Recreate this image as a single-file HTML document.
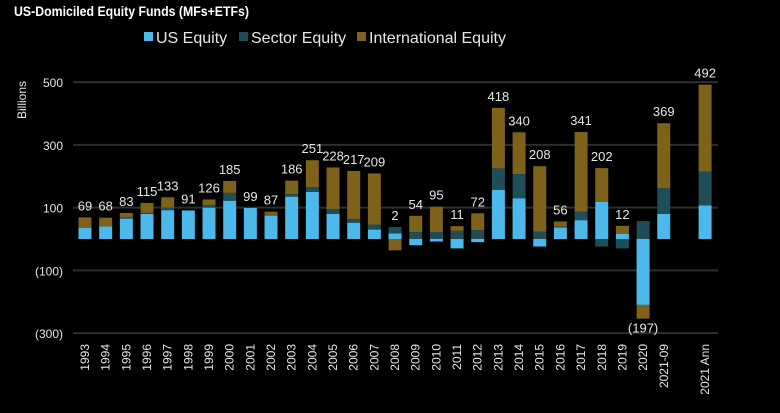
<!DOCTYPE html>
<html><head><meta charset="utf-8"><style>
html,body{margin:0;padding:0;background:#000;}
svg{display:block;font-family:"Liberation Sans",Arial,sans-serif;}
</style></head><body>
<svg id="chart" width="780" height="413" viewBox="0 0 780 413">
<text x="14" y="16" fill="#ffffff" font-size="14" font-weight="bold" textLength="235" lengthAdjust="spacingAndGlyphs">US-Domiciled Equity Funds (MFs+ETFs)</text>
<g>
<rect x="144" y="32" width="9" height="9" fill="#4db8ea"/>
<text x="156" y="43" fill="#e6e6e6" font-size="16">US Equity</text>
<rect x="239" y="32" width="9" height="9" fill="#1f4e5a"/>
<text x="251" y="43" fill="#e6e6e6" font-size="16">Sector Equity</text>
<rect x="357" y="32" width="9" height="9" fill="#7f6219"/>
<text x="369" y="43" fill="#e6e6e6" font-size="16">International Equity</text>
</g>
<text transform="translate(26,100) rotate(-90)" fill="#e6e6e6" font-size="12" text-anchor="middle">Billions</text>
<g id="grid"></g><g id="bars"></g><g id="labels"></g>
</svg>
<script>
const categories=["1993","1994","1995","1996","1997","1998","1999","2000","2001","2002","2003","2004","2005","2006","2007","2008","2009","2010","2011","2012","2013","2014","2015","2016","2017","2018","2019","2020","2021-09","2021 Ann"];
const slots=[0,1,2,3,4,5,6,7,8,9,10,11,12,13,14,15,16,17,18,19,20,21,22,23,24,25,26,27,28,30];
const usEquity=[35,40,65,80,92,91,100,122,99,75,135,150,80,52,30,18,-20,-8,-30,-10,157,130,-24,37,60,118,16,-210,80,107];
const sectorEquity=[0,0,3,3,8,0,8,25,0,2,8,15,15,12,16,20,22,22,26,28,68,77,24,3,27,-24,-30,57,82,108];
const intlEquity=[34,28,15,32,33,0,18,38,0,10,43,86,133,153,163,-36,52,81,15,54,193,133,208,16,254,108,26,-44,207,277];
const totals=["69","68","83","115","133","91","126","185","99","87","186","251","228","217","209","2","54","95","11","72","418","340","208","56","341","202","12","(197)","369","492"];
const yTicks=[500,300,100,-100,-300];
const yTickLabels=["500","300","100","(100)","(300)"];
const NS="http://www.w3.org/2000/svg";
function y(v){return 239-v*0.3138;}
function x(s){return 85+20.67*s;}
function mk(t,a,p){const e=document.createElementNS(NS,t);for(const k in a)e.setAttribute(k,a[k]);p.appendChild(e);return e;}
const grid=document.getElementById('grid'),bars=document.getElementById('bars'),labels=document.getElementById('labels');
yTicks.forEach((v,i)=>{
 const l=mk('line',{x1:73,x2:718,y1:y(v),y2:y(v),stroke:'#2e2e2e','stroke-width':2},grid);
 
 
 const t=mk('text',{x:63,y:y(v)+5,fill:'#e6e6e6','font-size':12,'text-anchor':'end'},grid);
 t.textContent=yTickLabels[i];
 
 
});
const series=[[usEquity,'#4db8ea','us'],[sectorEquity,'#1f4e5a','sector'],[intlEquity,'#7f6219','intl']];
const bw=13;
categories.forEach((c,i)=>{
 const cx=x(slots[i]);let pos=0,neg=0;
 series.forEach(([arr,col,nm])=>{
  const v=arr[i];if(!v)return;
  let a,b;if(v>0){a=pos;b=pos+v;pos=b;}else{a=neg;b=neg+v;neg=b;}
  const r=mk('rect',{x:cx-bw/2,y:Math.min(y(a),y(b)),width:bw,height:Math.abs(y(a)-y(b)),fill:col},bars);
  
  
 });
 const lt=totals[i].startsWith('(');
 const t=mk('text',{x:cx,y:lt?y(neg)+14:y(pos)-7,fill:'#e6e6e6','font-size':13,'text-anchor':'middle'},labels);
 t.textContent=totals[i];
 
 
 const xl=mk('text',{transform:'translate('+(cx+4)+',344) rotate(-90)',fill:'#e6e6e6','font-size':12,'text-anchor':'end'},labels);
 xl.textContent=c==='2021-09'?'2021-09':c;
 
 
});
</script>
</body></html>
